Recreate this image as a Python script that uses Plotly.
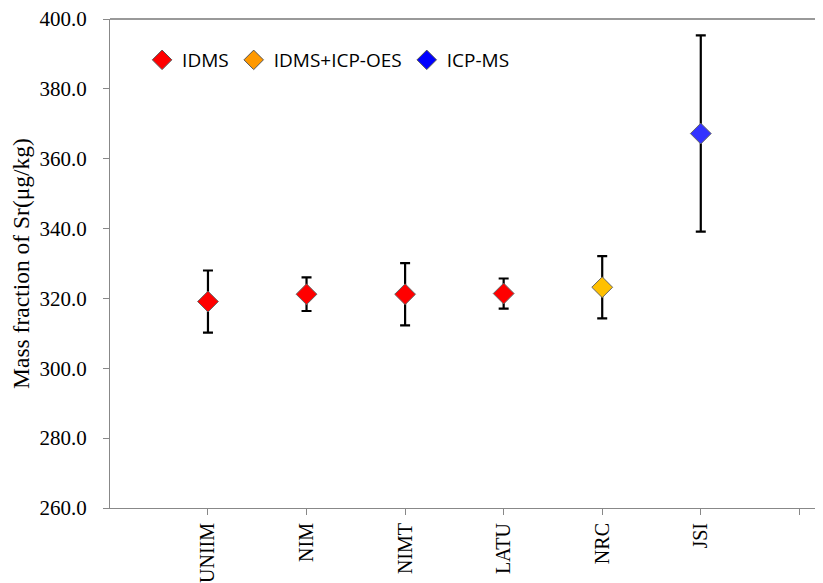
import plotly.graph_objects as go

# lab results for Sr
labs = ['UNIIM', 'NIM', 'NIMT', 'LATU', 'NRC', 'JSI']
values = [319.1, 321.2, 321.2, 321.4, 323.2, 367.2]
uncert = [8.9, 4.8, 8.9, 4.3, 8.9, 28.1]
methods = ['IDMS', 'IDMS', 'IDMS', 'IDMS', 'IDMS+ICP-OES', 'ICP-MS']

method_names = ['IDMS', 'IDMS+ICP-OES', 'ICP-MS']
point_colors = {'IDMS': '#FF0000', 'IDMS+ICP-OES': '#FFC000', 'ICP-MS': '#3333FF'}
legend_colors = {'IDMS': '#FF0000', 'IDMS+ICP-OES': '#FF9900', 'ICP-MS': '#0000FF'}

yticks = [260, 280, 300, 320, 340, 360, 380, 400]

fig = go.Figure()

# data points, one trace per method
for m in method_names:
    idx = [i for i, mm in enumerate(methods) if mm == m]
    fig.add_trace(go.Scatter(
        x=idx, y=[values[i] for i in idx],
        mode='markers', showlegend=False,
        marker=dict(symbol='diamond', size=16, color=point_colors[m],
                    line=dict(color='#666666', width=1)),
        error_y=dict(type='data', array=[uncert[i] for i in idx],
                     color='black', thickness=2.2, width=5)
    ))

# legend entries (colours in the legend differ slightly from the points)
for m in method_names:
    fig.add_trace(go.Scatter(
        x=[None], y=[None], mode='markers', name=m,
        marker=dict(symbol='diamond', size=15, color=legend_colors[m],
                    line=dict(color='#555555', width=1))
    ))

fig.update_layout(
    width=815, height=575,
    margin=dict(l=102, r=0, t=11, b=75),
    plot_bgcolor='white', paper_bgcolor='white',
    font=dict(family='Liberation Serif', color='black', size=21),
    legend=dict(orientation='h', x=0.045, y=0.955, xanchor='left', yanchor='top',
                font=dict(family='Open Sans', size=19, color='black'),
                bgcolor='rgba(0,0,0,0)', itemwidth=30, tracegroupgap=0),
    xaxis=dict(range=[-0.994, 6.24], tickmode='array',
               tickvals=list(range(7)), ticktext=labs + [''],
               tickangle=-90, ticks='outside', ticklen=6, tickcolor='#888888',
               tickfont=dict(size=20),
               showline=True, linecolor='#888888', linewidth=1,
               showgrid=False, zeroline=False, mirror=False,
               automargin=False, ticklabeloverflow='allow'),
    yaxis=dict(range=[260, 400], tickmode='array', tickvals=yticks,
               ticktext=['%.1f' % v for v in yticks],
               ticks='outside', ticklen=6, tickcolor='#888888',
               ticklabelstandoff=12, automargin=False, ticklabeloverflow='allow',
               showline=True, linecolor='#888888', linewidth=1,
               showgrid=False, zeroline=False,
               title=dict(text='Mass fraction of Sr(μg/kg)', font=dict(size=23.5), standoff=6)),
)

# top border of the plot area
fig.add_shape(type='line', xref='paper', yref='paper', x0=0, x1=1, y0=1, y1=1,
              line=dict(color='#777777', width=1.5))

fig.write_html("out.html")
